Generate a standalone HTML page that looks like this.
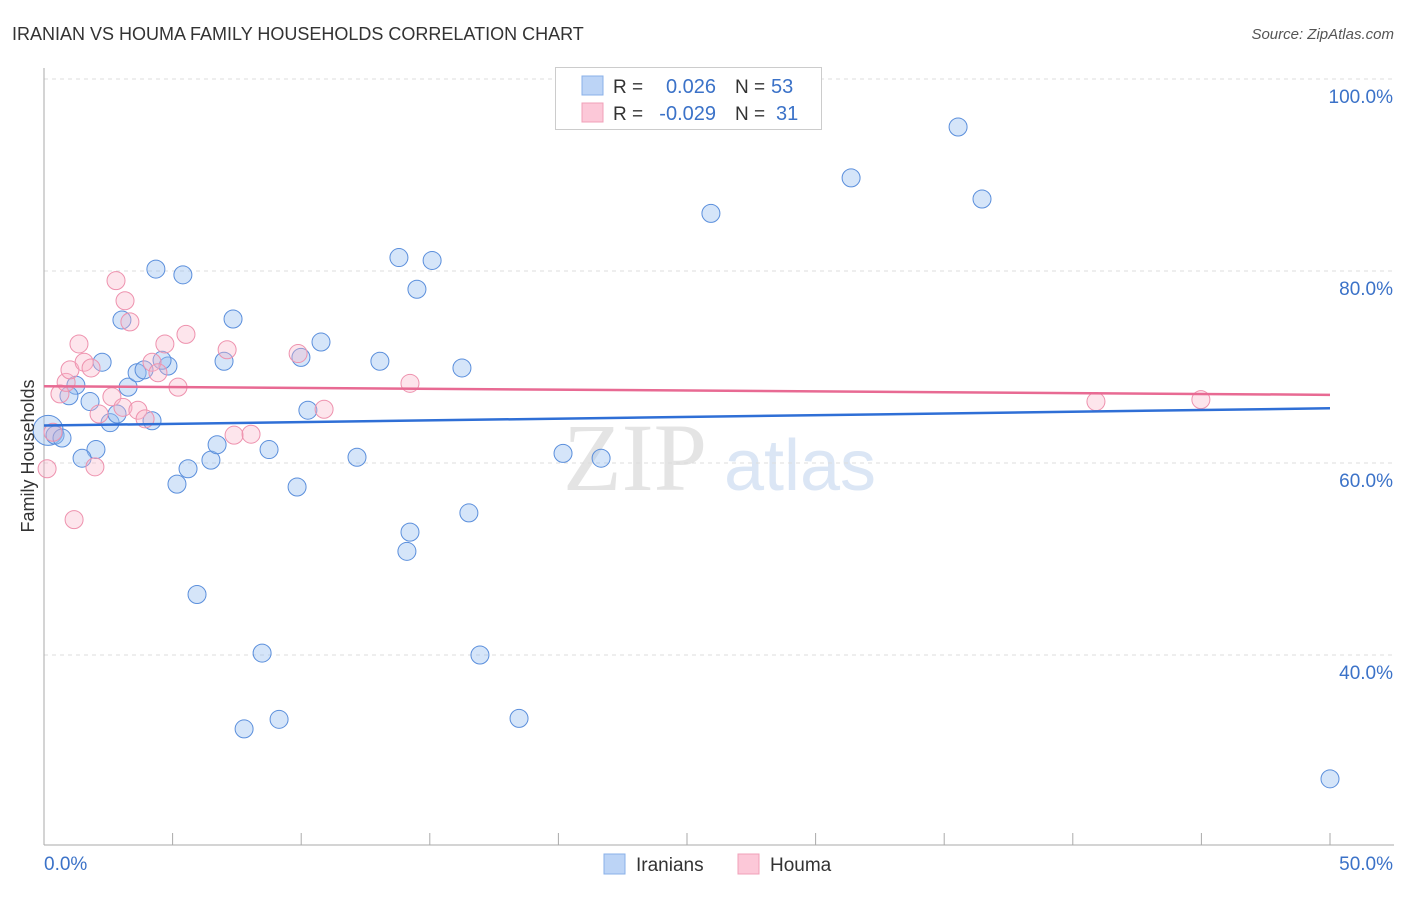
<!DOCTYPE html>
<html><head><meta charset="utf-8"><style>
body{margin:0;background:#fff;font-family:"Liberation Sans",sans-serif;}
</style></head><body>
<svg id="chart" width="1406" height="892" xmlns="http://www.w3.org/2000/svg">
<text x="12" y="40" font-size="18" fill="#333">IRANIAN VS HOUMA FAMILY HOUSEHOLDS CORRELATION CHART</text>
<text x="1394" y="39" font-size="15" fill="#555" font-style="italic" text-anchor="end">Source: ZipAtlas.com</text>
<text x="635" y="490" font-size="96" fill="#e4e4e4" font-family="Liberation Serif,serif" text-anchor="middle">ZIP</text>
<text x="800" y="490" font-size="72" fill="#dbe6f5" text-anchor="middle">atlas</text>
<g id="grid"></g>
<g id="axes"></g>
<g id="pts"></g>
<g id="trends"></g>
<text transform="translate(34,456) rotate(-90)" font-size="18" fill="#333" text-anchor="middle">Family Households</text>
<g>
<rect x="555.5" y="67.5" width="266" height="62" fill="#fff" stroke="#ccc"/>
<rect x="582" y="76" width="21" height="19" fill="#bcd4f6" stroke="#8ab0e8"/>
<rect x="582" y="103" width="21" height="19" fill="#fcc8d8" stroke="#f0a0b8"/>
<text x="613" y="93" font-size="19" fill="#333">R =</text><text x="716" y="93" font-size="20" fill="#3b72c8" text-anchor="end">0.026</text>
<text x="735" y="93" font-size="19" fill="#333">N =</text><text x="771" y="93" font-size="20" fill="#3b72c8">53</text>
<text x="613" y="120" font-size="19" fill="#333">R =</text><text x="716" y="120" font-size="20" fill="#3b72c8" text-anchor="end">-0.029</text>
<text x="735" y="120" font-size="19" fill="#333">N =</text><text x="776" y="120" font-size="20" fill="#3b72c8">31</text>
</g>
<g>
<rect x="604" y="854" width="21" height="20" fill="#bcd4f6" stroke="#8ab0e8"/>
<text x="636" y="871" font-size="19" fill="#333">Iranians</text>
<rect x="738" y="854" width="21" height="20" fill="#fcc8d8" stroke="#f0a0b8"/>
<text x="770" y="871" font-size="19" fill="#333">Houma</text>
</g>
</svg>
<script>
const yTicks=[40,60,80,100];
const yTickLabels=["40.0%","60.0%","80.0%","100.0%"];
const xTickLabels=["0.0%","50.0%"];
const iranX=[0.16,0.43,0.70,1.24,0.97,1.79,2.26,2.57,2.84,3.27,2.02,1.48,3.03,3.62,3.89,4.20,4.35,4.82,4.59,5.40,5.17,5.60,5.95,6.49,6.73,7.00,7.35,7.78,8.48,8.75,9.14,9.84,9.99,10.26,10.77,12.17,13.06,13.80,14.11,14.23,14.50,15.09,16.25,16.52,16.95,18.47,20.18,21.66,25.93,31.38,35.54,36.47,50.0];
const iranY=[63.4,62.9,62.6,68.1,67.0,66.4,70.5,64.2,65.1,67.9,61.4,60.5,74.9,69.4,69.7,64.4,80.2,70.1,70.7,79.6,57.8,59.4,46.3,60.3,61.9,70.6,75.0,32.3,40.2,61.4,33.3,57.5,71.0,65.5,72.6,60.6,70.6,81.4,50.8,52.8,78.1,81.1,69.9,54.8,40.0,33.4,61.0,60.5,86.0,89.7,95.0,87.5,27.1];
const houmaX=[0.12,0.35,0.62,0.86,1.01,1.17,1.36,1.56,1.83,1.98,2.14,2.64,2.80,3.07,3.15,3.34,3.65,3.93,4.20,4.43,4.70,5.21,5.52,7.12,7.39,8.05,9.88,10.89,14.23,40.90,44.98];
const houmaY=[59.4,63.2,67.2,68.4,69.7,54.1,72.4,70.5,69.9,59.6,65.1,66.9,79.0,65.8,76.9,74.7,65.5,64.6,70.5,69.4,72.4,67.9,73.4,71.8,62.9,63.0,71.4,65.6,68.3,66.4,66.6];
const iranTrend=[63.9,65.7];
const houmaTrend=[68.0,67.1];
const NS="http://www.w3.org/2000/svg";
const X=v=>44+v*25.72, Y=v=>1039-v*9.6;
function mk(t,a,p){const e=document.createElementNS(NS,t);for(const k in a)e.setAttribute(k,a[k]);p.appendChild(e);return e;}
const grid=document.getElementById('grid'),axes=document.getElementById('axes'),pts=document.getElementById('pts'),tr=document.getElementById('trends');
yTicks.forEach((t,i)=>{
 const l=mk('line',{x1:44,x2:1394,y1:Y(t),y2:Y(t),stroke:'#ddd','stroke-dasharray':'4,4'},grid);
 
 
 const tx=mk('text',{x:1393,y:Y(t)+24,'font-size':19,fill:'#3b72c8','text-anchor':'end'},grid);tx.textContent=yTickLabels[i];
 
 
});
mk('line',{x1:44,x2:44,y1:68,y2:845,stroke:'#aaa'},axes);
mk('line',{x1:44,x2:1394,y1:845,y2:845,stroke:'#aaa'},axes);
for(let v=0;v<=50;v+=5){const t=mk('line',{x1:X(v),x2:X(v),y1:833,y2:845,stroke:'#aaa'},axes);
 
 }
const xl0=mk('text',{x:44,y:870,'font-size':19,fill:'#3b72c8'},axes);xl0.textContent=xTickLabels[0];


const xl1=mk('text',{x:1393,y:870,'font-size':19,fill:'#3b72c8','text-anchor':'end'},axes);xl1.textContent=xTickLabels[1];


iranX.forEach((x,i)=>{const c=mk('circle',{cx:X(x),cy:Y(iranY[i]),r:i==0?15:9,fill:'rgba(150,190,240,0.4)',stroke:'#5b8fdc','stroke-width':1},pts);
 
 });
houmaX.forEach((x,i)=>{const c=mk('circle',{cx:X(x),cy:Y(houmaY[i]),r:9,fill:'rgba(250,180,200,0.35)',stroke:'#ee92ae','stroke-width':1},pts);
 
 });
const t1=mk('line',{x1:X(0),x2:X(50),y1:Y(iranTrend[0]),y2:Y(iranTrend[1]),stroke:'#2f6fd6','stroke-width':2.5},tr);


const t2=mk('line',{x1:X(0),x2:X(50),y1:Y(houmaTrend[0]),y2:Y(houmaTrend[1]),stroke:'#e86a93','stroke-width':2.5},tr);


</script>
</body></html>
